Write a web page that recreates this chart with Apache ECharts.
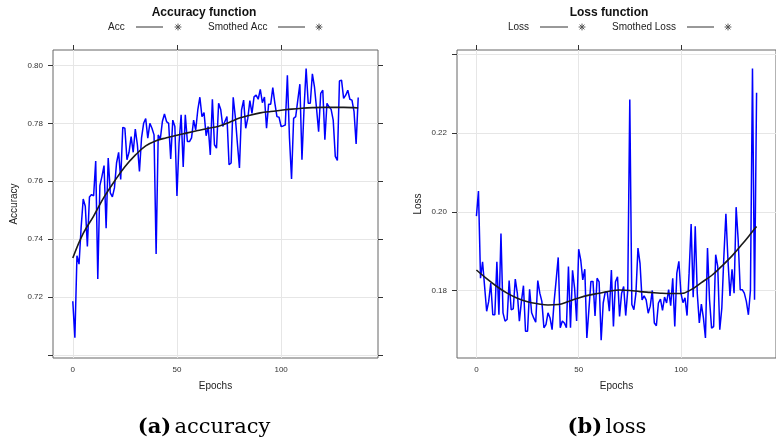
<!DOCTYPE html>
<html>
<head>
<meta charset="utf-8">
<script src="https://cdn.jsdelivr.net/npm/echarts@6/dist/echarts.min.js"></script>
<style>
  html, body { margin: 0; padding: 0; background: #fff; }
  #chart { width: 776px; height: 446px; }
</style>
</head>
<body>
<div id="chart"></div>
<script>
// Training history, one value per epoch (0..137)
const accuracy = [
  0.7186, 0.7060, 0.7343, 0.7314, 0.7440, 0.7539, 0.7514, 0.7375, 0.7546, 0.7554,
  0.7550, 0.7670, 0.7263, 0.7585, 0.7617, 0.7654, 0.7438, 0.7680, 0.7560, 0.7546,
  0.7577, 0.7663, 0.7700, 0.7606, 0.7786, 0.7783, 0.7674, 0.7700, 0.7754, 0.7700,
  0.7780, 0.7726, 0.7634, 0.7750, 0.7800, 0.7816, 0.7749, 0.7800, 0.7783, 0.7760,
  0.7349, 0.7760, 0.7745, 0.7806, 0.7832, 0.7806, 0.7800, 0.7677, 0.7811, 0.7789,
  0.7549, 0.7731, 0.7829, 0.7649, 0.7829, 0.7737, 0.7737, 0.7750, 0.7811, 0.7777,
  0.7846, 0.7890, 0.7823, 0.7837, 0.7757, 0.7789, 0.7691, 0.7883, 0.7726, 0.7714,
  0.7869, 0.7848, 0.7789, 0.7806, 0.7823, 0.7657, 0.7663, 0.7890, 0.7823, 0.7731,
  0.7646, 0.7846, 0.7880, 0.7783, 0.7817, 0.7878, 0.7834, 0.7891, 0.7897, 0.7883,
  0.7917, 0.7871, 0.7891, 0.7783, 0.7866, 0.7866, 0.7923, 0.7869, 0.7823, 0.7821,
  0.7789, 0.7791, 0.7794, 0.7966, 0.7750, 0.7608, 0.7817, 0.7823, 0.7880, 0.7935,
  0.7674, 0.7850, 0.7989, 0.7869, 0.7869, 0.7971, 0.7926, 0.7851, 0.7771, 0.7903,
  0.7914, 0.7743, 0.7869, 0.7857, 0.7848, 0.7811, 0.7686, 0.7672, 0.7946, 0.7949,
  0.7886, 0.7897, 0.7914, 0.7883, 0.7880, 0.7840, 0.7729, 0.7889
];

const loss = [
  0.1989, 0.2053, 0.1831, 0.1873, 0.1810, 0.1747, 0.1772, 0.1819, 0.1738, 0.1738,
  0.1873, 0.1738, 0.1945, 0.1743, 0.1722, 0.1726, 0.1825, 0.1751, 0.1753, 0.1829,
  0.1793, 0.1722, 0.1772, 0.1812, 0.1696, 0.1696, 0.1803, 0.1743, 0.1730, 0.1719,
  0.1825, 0.1793, 0.1772, 0.1705, 0.1713, 0.1743, 0.1730, 0.1700, 0.1772, 0.1827,
  0.1884, 0.1705, 0.1722, 0.1717, 0.1705, 0.1861, 0.1705, 0.1851, 0.1806, 0.1722,
  0.1905, 0.1878, 0.1827, 0.1854, 0.1679, 0.1751, 0.1823, 0.1823, 0.1735, 0.1831,
  0.1822, 0.1673, 0.1768, 0.1796, 0.1795, 0.1747, 0.1852, 0.1708, 0.1822, 0.1835,
  0.1734, 0.1793, 0.1810, 0.1736, 0.1800, 0.2286, 0.1764, 0.1751, 0.1793, 0.1908,
  0.1869, 0.1776, 0.1786, 0.1776, 0.1742, 0.1760, 0.1800, 0.1717, 0.1710, 0.1768,
  0.1778, 0.1749, 0.1783, 0.1768, 0.1802, 0.1761, 0.1831, 0.1708, 0.1844, 0.1874,
  0.1793, 0.1769, 0.1781, 0.1736, 0.1844, 0.1969, 0.1783, 0.1963, 0.1793, 0.1717,
  0.1765, 0.1730, 0.1679, 0.1908, 0.1776, 0.1704, 0.1708, 0.1891, 0.1861, 0.1700,
  0.1755, 0.1886, 0.1995, 0.1878, 0.1786, 0.1854, 0.1793, 0.2012, 0.1929, 0.1802,
  0.1802, 0.1793, 0.1772, 0.1738, 0.1800, 0.2365, 0.1776, 0.2303
];

// Smoothed curves, sampled along the epoch axis
const smoothEpochs = [0, 5, 10, 15, 20, 25, 30, 35, 40, 45, 50, 55, 60, 65, 70,
                      75, 80, 85, 90, 95, 100, 105, 110, 115, 120, 125, 130, 135, 137];
const smoothAcc = [0.7335, 0.7420, 0.7480, 0.7545, 0.7600, 0.7650, 0.7690, 0.7722, 0.7740, 0.7750,
                   0.7759, 0.7767, 0.7775, 0.7783, 0.7790, 0.7803, 0.7818, 0.7828, 0.7836, 0.7841,
                   0.7845, 0.7849, 0.7852, 0.7854, 0.7855, 0.7855, 0.7855, 0.7854, 0.7853];
const smoothLoss = [0.1852, 0.1830, 0.1810, 0.1793, 0.1780, 0.1771, 0.1766, 0.1763, 0.1764, 0.1772,
                    0.1781, 0.1788, 0.1793, 0.1798, 0.1801, 0.1800, 0.1797, 0.1795, 0.1793, 0.1792,
                    0.1792, 0.1802, 0.1820, 0.1838, 0.1862, 0.1888, 0.1918, 0.1950, 0.1963];

// Tick positions and labels
const epochTicks = [0, 50, 100];
const accTicks = [0.70, 0.72, 0.74, 0.76, 0.78, 0.80];
const accLabels = [0.72, 0.74, 0.76, 0.78, 0.80];
const lossTicks = [0.18, 0.20, 0.22, 0.24];
const lossLabels = [0.18, 0.20, 0.22];

const SANS = '"Liberation Sans", Arial, Helvetica, sans-serif';
const SERIF = '"DejaVu Serif", "Liberation Serif", serif';
const GRID_LINE = '#e6e6e6';
const FRAME = '#666';
const TICK_TEXT = '#333';

const pairs = (xs, ys) => ys.map((v, i) => [xs[i], v]);
const epochIndex = accuracy.map((_, i) => i);

function bottomAxis(gridIndex) {
  return {
    type: 'value', gridIndex, min: -9.5, max: 146.5, position: 'bottom',
    name: 'Epochs', nameLocation: 'middle', nameGap: 23,
    nameTextStyle: { fontFamily: SANS, fontSize: 10, color: '#222' },
    axisLine: { show: false, onZero: false },
    axisTick: { show: false, customValues: epochTicks },
    axisLabel: { customValues: epochTicks, fontFamily: SANS, fontSize: 8, color: TICK_TEXT, margin: 8 },
    splitLine: { show: true, lineStyle: { color: GRID_LINE, width: 1 } }
  };
}
function topAxis(gridIndex) {
  return {
    type: 'value', gridIndex, min: -9.5, max: 146.5, position: 'top',
    axisLine: { show: false, onZero: false },
    axisTick: { show: true, length: 5, customValues: epochTicks, lineStyle: { color: '#333' } },
    axisLabel: { show: false },
    splitLine: { show: false }
  };
}
function leftAxis(gridIndex, min, max, ticks, labels, name) {
  return {
    type: 'value', gridIndex, min, max, position: 'left',
    name, nameLocation: 'middle', nameGap: 34, nameRotate: 90,
    nameTextStyle: { fontFamily: SANS, fontSize: 10, color: '#222' },
    axisLine: { show: false, onZero: false },
    axisTick: { show: true, length: 5, customValues: ticks, lineStyle: { color: '#333' } },
    axisLabel: { customValues: labels, fontFamily: SANS, fontSize: 8, color: TICK_TEXT, margin: 10,
                 formatter: v => Number(v).toFixed(2) },
    splitLine: { show: true, lineStyle: { color: GRID_LINE, width: 1 } }
  };
}
function rightAxis(gridIndex, min, max, ticks) {
  return {
    type: 'value', gridIndex, min, max, position: 'right',
    axisLine: { show: false, onZero: false },
    axisTick: { show: true, length: 5, customValues: ticks, lineStyle: { color: '#333' } },
    axisLabel: { show: false },
    splitLine: { show: false }
  };
}

// Small eight-ray star used in the legend rows
function star(cx, cy) {
  const r = 3.4, d = r * 0.7071;
  const segs = [[-r, 0, r, 0], [0, -r, 0, r], [-d, -d, d, d], [-d, d, d, -d]];
  return {
    type: 'group', x: cx, y: cy,
    children: segs.map(s => ({
      type: 'line', shape: { x1: s[0], y1: s[1], x2: s[2], y2: s[3] },
      style: { stroke: '#555', lineWidth: 1 }
    }))
  };
}
function legendRow(items, y) {
  const out = [];
  items.forEach(it => {
    out.push({ type: 'text', x: it.textX, y, style: { text: it.label, font: '10px ' + SANS, fill: '#222', align: 'left', verticalAlign: 'middle' } });
    out.push({ type: 'line', shape: { x1: it.lineX1, y1: y, x2: it.lineX2, y2: y }, style: { stroke: '#333', lineWidth: 1 } });
    out.push(star(it.starX, y));
  });
  return out;
}
function titleText(text, x) {
  return { type: 'text', x, y: 13, style: { text, font: 'bold 12px ' + SANS, fill: '#111', align: 'center', verticalAlign: 'middle' } };
}
function caption(tag, word, x) {
  return {
    type: 'text', x, y: 428,
    style: {
      text: '{b|' + tag + '} {r|' + word + '}', align: 'center', verticalAlign: 'middle',
      rich: {
        b: { fontFamily: SERIF, fontSize: 21, fontWeight: 'bold', fill: '#000' },
        r: { fontFamily: SERIF, fontSize: 21, fill: '#000' }
      }
    }
  };
}

const chart = echarts.init(document.getElementById('chart'), null, { renderer: 'canvas' });
chart.setOption({
  animation: false,
  backgroundColor: '#fff',
  grid: [
    { left: 53, top: 50, width: 325, height: 308, show: true, borderColor: FRAME, borderWidth: 1, backgroundColor: 'transparent', containLabel: false },
    { left: 457, top: 50, width: 330, height: 308, show: true, borderColor: FRAME, borderWidth: 1, backgroundColor: 'transparent', containLabel: false }
  ],
  xAxis: [bottomAxis(0), topAxis(0), bottomAxis(1), topAxis(1)],
  yAxis: [
    leftAxis(0, 0.699, 0.8053, accTicks, accLabels, 'Accuracy'),
    rightAxis(0, 0.699, 0.8053, accTicks),
    leftAxis(1, 0.1628, 0.2412, lossTicks, lossLabels, 'Loss')
  ],
  series: [
    { name: 'Acc', type: 'line', xAxisIndex: 0, yAxisIndex: 0, data: pairs(epochIndex, accuracy),
      showSymbol: false, lineStyle: { color: '#0000ff', width: 1.5 }, z: 2 },
    { name: 'Smothed Acc', type: 'line', xAxisIndex: 0, yAxisIndex: 0, data: pairs(smoothEpochs, smoothAcc),
      smooth: 0.4, showSymbol: false, lineStyle: { color: '#1a1a1a', width: 1.6 }, z: 3 },
    { name: 'Loss', type: 'line', xAxisIndex: 2, yAxisIndex: 2, data: pairs(epochIndex, loss),
      showSymbol: false, lineStyle: { color: '#0000ff', width: 1.5 }, z: 2 },
    { name: 'Smothed Loss', type: 'line', xAxisIndex: 2, yAxisIndex: 2, data: pairs(smoothEpochs, smoothLoss),
      smooth: 0.4, showSymbol: false, lineStyle: { color: '#1a1a1a', width: 1.6 }, z: 3 }
  ],
  graphic: [
    titleText('Accuracy function', 204),
    titleText('Loss function', 609),
    ...legendRow([
      { label: 'Acc', textX: 108, lineX1: 136, lineX2: 163, starX: 178 },
      { label: 'Smothed Acc', textX: 208, lineX1: 278, lineX2: 305, starX: 319 }
    ], 27),
    ...legendRow([
      { label: 'Loss', textX: 508, lineX1: 540, lineX2: 568, starX: 582 },
      { label: 'Smothed Loss', textX: 612, lineX1: 687, lineX2: 714, starX: 728 }
    ], 27),
    caption('(a)', 'accuracy', 204),
    caption('(b)', 'loss', 607)
  ]
});
</script>
</body>
</html>
